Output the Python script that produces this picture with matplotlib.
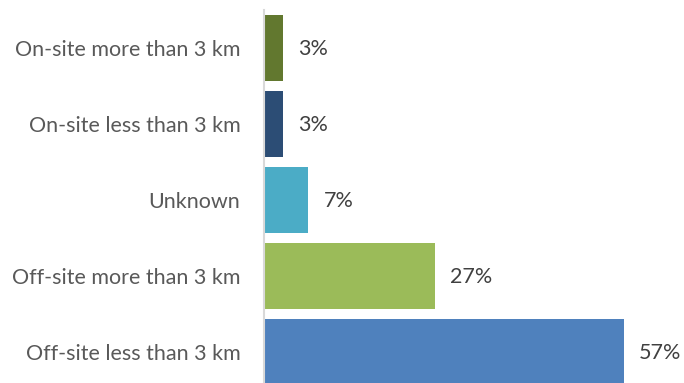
import matplotlib.pyplot as plt

categories = ['Off-site less than 3 km', 'Off-site more than 3 km', 'Unknown',
              'On-site less than 3 km', 'On-site more than 3 km']
values = [57, 27, 7, 3, 3]
colors = ['#4f81bd', '#9bbb59', '#4bacc6', '#2c4d75', '#62782f']

plt.rcParams['font.family'] = ['Lato', 'DejaVu Sans']

fig = plt.figure(figsize=(6.84, 3.83), dpi=100)
ax = fig.add_axes([264/684, 0, 1 - 264/684, 1 - 10/383])

pos = list(range(len(categories)))
ax.barh(pos, values, height=66/76, color=colors)
for p, v in zip(pos, values):
    ax.annotate(f'{v}%', (v, p), xytext=(11, -1), textcoords='offset points',
                va='center', ha='left', fontsize=15.5, color='#404040')

ax.set_yticks(pos)
ax.set_yticklabels(categories, fontsize=15.5, color='#595959')
ax.tick_params(axis='y', length=0, pad=17)
ax.set_xticks([])
ax.set_xlim(0, 66.5)
ax.set_ylim(-0.408, 4.5)
for s in ['top', 'right', 'bottom']:
    ax.spines[s].set_visible(False)
ax.spines['left'].set_color('#d9d9d9')
ax.spines['left'].set_linewidth(1.5)

fig.savefig('out.png', dpi=100)
